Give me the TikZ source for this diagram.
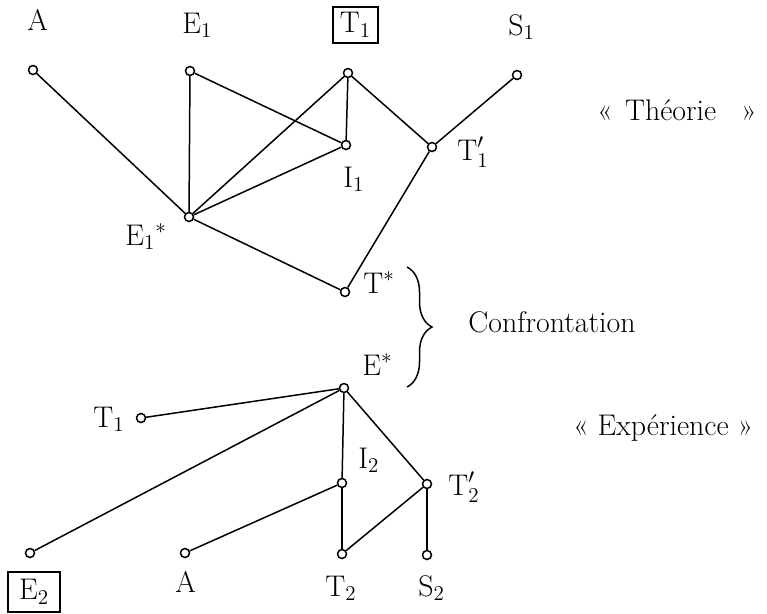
\documentclass[tikz,border=0pt]{standalone}
\usepackage{fontspec}
\usepackage{tikz}
\usetikzlibrary{positioning,decorations.pathreplacing}

\begin{document}
\begin{tikzpicture}[
    x=0.02cm, y=-0.02cm,
    vertex/.style={draw, circle, inner sep=0pt, minimum size=0.18cm, line width=0.85pt},
    lbl/.style={anchor=base west, inner sep=0pt, font=\fontsize{17}{20}\selectfont},
    boxed/.style={draw, line width=0.85pt, inner sep=0pt, font=\fontsize{17}{20}\selectfont},
    link/.style={line width=0.85pt}
]
    \useasboundingbox (0,0) rectangle (767,613);

    % Theorie: points
    \node[vertex] (a1) at (33,70) {};
    \node[vertex] (e1) at (190,71) {};
    \node[vertex] (t1) at (348,73) {};
    \node[vertex] (s1) at (517,75) {};
    \node[vertex] (i1) at (346,145) {};
    \node[vertex] (t1p) at (432,147) {};
    \node[vertex] (e1s) at (189,217) {};
    \node[vertex] (ts) at (345,292) {};

    % Experience: points
    \node[vertex] (es) at (344,388) {};
    \node[vertex] (t1b) at (141,418) {};
    \node[vertex] (i2) at (342,483) {};
    \node[vertex] (t2p) at (427,484) {};
    \node[vertex] (e2) at (30,553) {};
    \node[vertex] (a2) at (185,553) {};
    \node[vertex] (t2) at (342,554) {};
    \node[vertex] (s2) at (427,555) {};

    % Theorie: links
    \draw[link] (a1) -- (e1s);
    \draw[link] (e1) -- (e1s);
    \draw[link] (e1) -- (i1);
    \draw[link] (t1) -- (i1);
    \draw[link] (t1) -- (e1s);
    \draw[link] (i1) -- (e1s);
    \draw[link] (t1) -- (t1p);
    \draw[link] (s1) -- (t1p);
    \draw[link] (t1p) -- (ts);
    \draw[link] (e1s) -- (ts);

    % Experience: links
    \draw[link] (t1b) -- (es);
    \draw[link] (e2) -- (es);
    \draw[link] (es) -- (i2);
    \draw[link] (es) -- (t2p);
    \draw[link] (a2) -- (i2);
    \draw[link] (i2) -- (t2);
    \draw[link] (t2) -- (t2p);
    \draw[link] (t2p) -- (s2);

    % Labels (top)
    \node[lbl] (la1) at (27,30) {A};
    \node[lbl] (le1) at (182,33) {$\mathrm{E}_1$};
    \node[boxed, minimum width=0.9cm, minimum height=0.72cm] (lt1) at (355.5,25) {$\mathrm{T}_1$};
    \node[lbl] (ls1) at (508,35) {$\mathrm{S}_1$};
    \node[lbl] (li1) at (343,187) {$\mathrm{I}_1$};
    \node[lbl] (lt1p) at (457,160) {$\mathrm{T}'_1$};
    \node[lbl] (le1s) at (125,245) {$\mathrm{E}_1{}^*$};
    \node[lbl] (lts) at (363,293) {$\mathrm{T}^*$};
    \node[lbl] (lth) at (597,120) {«\hspace{0.25cm}Théorie\hspace{0.5cm}»};

    % Confrontation
    \coordinate (brtop) at (407,267);
    \coordinate (brbot) at (407,387);
    \draw[link, decorate, decoration={brace, amplitude=0.5cm}] (brtop) -- (brbot);
    \node[lbl] (lconf) at (468,332) {Confrontation};

    % Labels (bottom)
    \node[lbl] (les) at (362,375) {$\mathrm{E}^*$};
    \node[lbl] (lt1b) at (93,427) {$\mathrm{T}_1$};
    \node[lbl] (li2) at (358,468) {$\mathrm{I}_2$};
    \node[lbl] (lt2p) at (448,495) {$\mathrm{T}'_2$};
    \node[lbl] (lexp) at (573,435) {«~Expérience~»};
    \node[boxed, minimum width=1.04cm, minimum height=0.8cm] (le2) at (34,592) {$\mathrm{E}_2$};
    \node[lbl] (la2) at (175,592) {A};
    \node[lbl] (lt2) at (325,596) {$\mathrm{T}_2$};
    \node[lbl] (ls2) at (418,596) {$\mathrm{S}_2$};
\end{tikzpicture}
\end{document}
